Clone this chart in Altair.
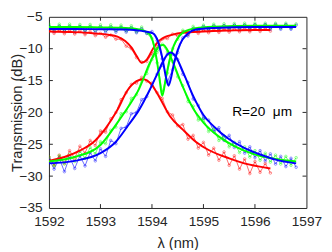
import altair as alt
import pandas as pd

# ---------------- data ----------------
# wavelength grid of the measured spectra (nm)
wl = [1592.0, 1592.1, 1592.2, 1592.3, 1592.4, 1592.5, 1592.6, 1592.7, 1592.8, 1592.9,
      1593.0, 1593.1, 1593.2, 1593.3, 1593.4, 1593.5, 1593.6, 1593.7, 1593.8, 1593.9,
      1594.0, 1594.1, 1594.2, 1594.3, 1594.4, 1594.5, 1594.6, 1594.7, 1594.8, 1594.9,
      1595.0, 1595.1, 1595.2, 1595.3, 1595.4, 1595.5, 1595.6, 1595.7, 1595.8, 1595.9,
      1596.0, 1596.1, 1596.2, 1596.3, 1596.4, 1596.5, 1596.6, 1596.7, 1596.8]

# measured (with Fabry-Perot ripple)
red_through_meas = [-7.0, -7.6, -7.05, -7.65, -7.1, -7.7, -7.2, -7.8, -7.3, -7.95,
                    -7.6, -8.2, -7.85, -8.5, -8.5, -9.6, -10.0, -11.4, -12.1, -12.0,
                    -10.8, -9.7, -8.5, -8.4, -7.7, -8.0, -7.35, -7.75, -7.15, -7.6,
                    -7.05, -7.5, -7.0, -7.45, -6.9, -7.4, -6.85, -7.35, -6.8, -7.35,
                    -6.8, -7.3, -6.8, -7.25]
red_drop_meas = [-27.0, -28.3, -26.7, -28.0, -26.0, -27.2, -25.3, -26.4, -24.4, -25.2,
                 -22.9, -23.1, -21.0, -20.0, -18.0, -16.9, -15.6, -15.4, -14.5, -15.1,
                 -15.4, -16.9, -17.8, -19.9, -20.4, -22.1, -21.9, -24.2, -23.6, -25.6,
                 -24.7, -26.7, -25.6, -27.5, -26.2, -28.3, -26.8, -28.9, -27.3, -29.6,
                 -27.7, -29.4, -28.0, -29.5]
green_through_meas = [-6.15, -7.05, -6.15, -7.05, -6.15, -7.05, -6.2, -7.1, -6.2, -7.1,
                      -6.25, -7.1, -6.25, -7.15, -6.3, -7.2, -6.4, -7.35, -6.6, -7.6,
                      -8.4, -12.2, -16.8, -13.8, -10.0, -8.5, -7.1, -7.4, -6.5, -7.1,
                      -6.3, -6.95, -6.15, -6.9, -6.1, -6.9, -6.05, -6.85, -6.0, -6.85,
                      -6.0, -6.85, -6.0, -6.8, -6.0, -6.8, -6.0, -6.8, -6.1]
green_drop_meas = [-27.0, -28.4, -26.8, -28.1, -26.6, -27.7, -26.1, -27.2, -25.5, -26.5,
                   -24.6, -24.9, -22.8, -22.3, -20.2, -19.9, -17.8, -17.2, -14.9, -13.9,
                   -11.7, -10.6, -9.3, -10.5, -12.0, -14.4, -15.8, -18.3, -19.0, -21.2,
                   -21.0, -23.0, -22.5, -24.4, -23.7, -25.4, -24.7, -26.3, -25.4, -27.0,
                   -26.0, -27.5, -26.4, -27.8, -26.7, -28.1, -26.9, -28.3, -27.1]
blue_through_meas = [-6.5, -7.3, -6.5, -7.3, -6.55, -7.35, -6.55, -7.35, -6.6, -7.4,
                     -6.6, -7.4, -6.65, -7.4, -6.7, -7.4, -6.75, -7.5, -6.9, -7.6,
                     -7.3, -8.7, -11.6, -15.2, -13.3, -10.6, -8.3, -8.0, -6.9, -7.2,
                     -6.55, -7.1, -6.45, -7.05, -6.4, -7.0, -6.3, -7.0, -6.3, -7.0,
                     -6.25, -6.95, -6.2, -6.95, -6.2, -6.95, -6.2, -6.95, -6.3]
blue_drop_meas = [-27.3, -28.9, -27.2, -29.3, -27.0, -28.8, -26.8, -28.4, -26.3, -27.6,
                  -25.7, -26.9, -24.4, -24.9, -22.5, -22.3, -20.2, -20.0, -18.0, -17.5,
                  -15.8, -14.0, -12.6, -10.9, -10.9, -11.7, -14.0, -15.3, -17.9, -18.9,
                  -20.9, -21.2, -23.0, -22.4, -24.4, -23.6, -25.5, -24.6, -26.4, -25.4,
                  -27.1, -26.0, -27.6, -26.5, -28.1, -26.9, -28.5, -27.2, -28.6]

# fitted curves
red_through_fit_x = [1592.0, 1592.5, 1592.9, 1593.15, 1593.33, 1593.48, 1593.6, 1593.7, 1593.8,
                     1593.9, 1594.02, 1594.12, 1594.22, 1594.4, 1594.6, 1595.0, 1595.5, 1596.0, 1596.3]
red_through_fit_y = [-7.3, -7.4, -7.6, -7.8, -8.1, -8.8, -9.8, -11.1, -12.2,
                     -11.7, -10.0, -8.9, -8.3, -7.8, -7.5, -7.3, -7.15, -7.05, -7.05]
red_drop_fit_x = [1592.0, 1592.3, 1592.6, 1592.9, 1593.1, 1593.33, 1593.52, 1593.7, 1593.83,
                  1594.0, 1594.15, 1594.35, 1594.6, 1594.85, 1595.1, 1595.5, 1595.9, 1596.3]
red_drop_fit_y = [-27.6, -27.0, -26.0, -24.4, -22.5, -19.6, -16.6, -15.1, -14.8,
                  -15.7, -17.7, -20.6, -22.7, -24.6, -25.9, -27.2, -28.2, -28.8]
green_through_fit_x = [1592.0, 1592.5, 1593.0, 1593.4, 1593.7, 1593.85, 1593.96, 1594.03, 1594.09,
                       1594.14, 1594.2, 1594.27, 1594.34, 1594.42, 1594.52, 1594.66, 1594.85, 1595.2,
                       1596.0, 1596.8]
green_through_fit_y = [-6.6, -6.6, -6.65, -6.7, -6.9, -7.2, -7.8, -9.2, -11.6,
                       -14.3, -17.4, -14.6, -11.8, -9.6, -8.1, -7.2, -6.8, -6.55,
                       -6.4, -6.4]
green_drop_fit_x = [1592.0, 1592.5, 1593.0, 1593.33, 1593.55, 1593.75, 1593.96, 1594.08, 1594.16,
                    1594.22, 1594.3, 1594.42, 1594.6, 1594.8, 1595.0, 1595.3, 1595.6, 1596.0,
                    1596.4, 1596.8]
green_drop_fit_y = [-27.7, -27.0, -25.1, -21.6, -19.0, -16.3, -12.2, -10.3, -9.5,
                    -9.4, -10.2, -12.4, -16.0, -19.4, -21.6, -23.8, -25.3, -26.6,
                    -27.3, -27.7]
blue_through_fit_x = [1592.0, 1592.5, 1593.0, 1593.5, 1593.8, 1594.02, 1594.12, 1594.21, 1594.27,
                      1594.32, 1594.37, 1594.43, 1594.5, 1594.59, 1594.7, 1594.85, 1595.2, 1596.0,
                      1596.8]
blue_through_fit_y = [-6.9, -6.9, -6.95, -7.0, -7.2, -7.6, -8.9, -11.8, -14.4,
                      -15.8, -14.6, -12.2, -10.2, -8.6, -7.6, -7.0, -6.75, -6.6,
                      -6.6]
blue_drop_fit_x = [1592.0, 1592.5, 1593.0, 1593.3, 1593.55, 1593.75, 1593.96, 1594.1, 1594.22,
                   1594.3, 1594.37, 1594.45, 1594.6, 1594.8, 1595.0, 1595.2, 1595.5, 1595.8,
                   1596.1, 1596.4, 1596.8]
blue_drop_fit_y = [-28.0, -27.6, -26.4, -24.6, -21.9, -19.6, -16.4, -14.0, -11.9,
                   -10.9, -10.6, -11.1, -13.6, -17.4, -20.4, -22.2, -24.2, -25.6,
                   -26.6, -27.4, -28.0]

x_ticks = [1592, 1593, 1594, 1595, 1596, 1597]
y_ticks = [-35, -30, -25, -20, -15, -10, -5]
annotation = ["R=20\u00a0\u00a0μm"]
annotation_x = [1596.72]
annotation_y = [-19.9]

# ---------------- build tables ----------------
RED, GREEN, BLUE = "#ff0000", "#00ff00", "#0000ff"

meas_rows = []
for name, col, ys in [("r_t", RED, red_through_meas), ("r_d", RED, red_drop_meas),
                      ("g_t", GREEN, green_through_meas), ("g_d", GREEN, green_drop_meas),
                      ("b_t", BLUE, blue_through_meas), ("b_d", BLUE, blue_drop_meas)]:
    for xv, yv in zip(wl, ys):
        meas_rows.append({"x": xv, "y": yv, "s": name, "c": col})
meas = pd.DataFrame(meas_rows)

fit_rows = []
for name, col, xs, ys in [("1r_t", RED, red_through_fit_x, red_through_fit_y),
                          ("1r_d", RED, red_drop_fit_x, red_drop_fit_y),
                          ("2g_t", GREEN, green_through_fit_x, green_through_fit_y),
                          ("2g_d", GREEN, green_drop_fit_x, green_drop_fit_y),
                          ("3b_t", BLUE, blue_through_fit_x, blue_through_fit_y),
                          ("3b_d", BLUE, blue_drop_fit_x, blue_drop_fit_y)]:
    for xv, yv in zip(xs, ys):
        fit_rows.append({"x": xv, "y": yv, "s": name, "c": col})
fit = pd.DataFrame(fit_rows)

xt = pd.DataFrame({"x": x_ticks[1:-1]})
yt = pd.DataFrame({"y": y_ticks[1:-1]})
ann = pd.DataFrame({"x": annotation_x, "y": annotation_y, "t": annotation})

FONT = "Liberation Sans"
TXT = "#262626"
W, H = 264, 196

X = alt.X("x:Q",
          scale=alt.Scale(domain=[1592, 1597], nice=False, zero=False),
          axis=alt.Axis(values=x_ticks, format="d", title="λ (nm)", grid=False, ticks=False,
                        domain=False, labelPadding=7, labelFontSize=14, titleFontSize=15,
                        labelFlush=False, labelOverlap=False, titleX=W / 2, titleY=35,
                        titleAlign="center", titleBaseline="middle"))
Y = alt.Y("y:Q",
          scale=alt.Scale(domain=[-35, -5], nice=False, zero=False),
          axis=alt.Axis(values=y_ticks, format="d", title="Transmission (dB)", grid=False,
                        ticks=False, domain=False, labelPadding=7, labelFontSize=14,
                        titleFontSize=15, labelFlush=False, labelOverlap=False,
                        titleX=-33, titleY=H / 2, titleAngle=270, titleAlign="center",
                        titleBaseline="middle"))

meas_line = alt.Chart(meas).mark_line(strokeWidth=0.6, clip=True).encode(
    x=X, y=Y, detail="s:N", color=alt.Color("c:N", scale=None))
meas_pts = alt.Chart(meas).mark_point(shape="circle", size=7, filled=False,
                                      strokeWidth=0.6, clip=True).encode(
    x=X, y=Y, color=alt.Color("c:N", scale=None))
fit_line = alt.Chart(fit).mark_line(strokeWidth=2, interpolate="monotone", clip=True).encode(
    x=X, y=Y, detail="s:N", color=alt.Color("c:N", scale=None))

tick_col = TXT
top_t = alt.Chart(xt).mark_rule(color=tick_col, strokeWidth=1).encode(
    x=X, y=alt.value(0), y2=alt.value(4))
bot_t = alt.Chart(xt).mark_rule(color=tick_col, strokeWidth=1).encode(
    x=X, y=alt.value(H), y2=alt.value(H - 4))
left_t = alt.Chart(yt).mark_rule(color=tick_col, strokeWidth=1).encode(
    y=Y, x=alt.value(0), x2=alt.value(4))
right_t = alt.Chart(yt).mark_rule(color=tick_col, strokeWidth=1).encode(
    y=Y, x=alt.value(W), x2=alt.value(W - 4))

label = alt.Chart(ann).mark_text(font=FONT, fontSize=14, color="#000000",
                                 align="right", baseline="middle").encode(
    x=X, y=Y, text="t:N")

chart = alt.layer(meas_line, meas_pts, fit_line, top_t, bot_t, left_t, right_t, label).properties(
    width=W, height=H,
    autosize=alt.AutoSizeParams(type="none"),
    padding={"left": 42, "top": 6, "right": 18, "bottom": 40},
).configure_view(stroke=TXT, strokeWidth=1).configure_axis(
    labelFont=FONT, titleFont=FONT, labelColor=TXT, titleColor=TXT, titleFontWeight="normal")

chart.save("out.html", embed_options={"renderer": "svg", "actions": False})
